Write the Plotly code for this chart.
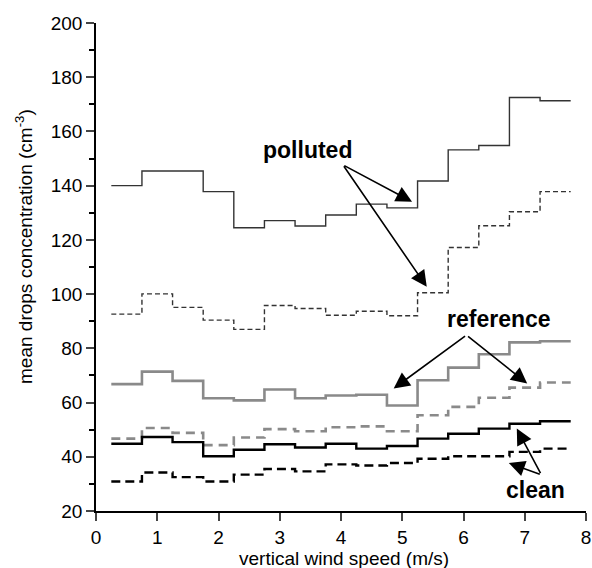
import numpy as np
import plotly.graph_objects as go

# bin centres (m/s)
wind_speed = [0.5, 1.0, 1.5, 2.0, 2.5, 3.0, 3.5, 4.0, 4.5, 5.0, 5.5, 6.0, 6.5, 7.0, 7.5]
bin_half_width = 0.25

polluted_solid = [140.0, 145.4, 145.4, 137.8, 124.5, 127.1, 125.1, 129.2, 133.2, 131.8, 141.7, 153.2, 154.8, 172.5, 171.3]
polluted_dash = [92.6, 100.1, 95.1, 90.4, 87.0, 95.8, 94.7, 92.2, 93.7, 92.0, 100.5, 117.2, 125.2, 130.4, 137.8]
reference_solid = [66.8, 71.4, 68.0, 61.6, 60.8, 64.8, 61.6, 62.6, 62.9, 58.9, 68.2, 72.9, 77.8, 82.2, 82.6]
reference_dash = [46.7, 50.6, 48.8, 44.3, 47.1, 50.2, 49.4, 50.9, 51.2, 49.4, 55.3, 58.4, 61.8, 65.5, 67.4]
clean_solid = [44.8, 47.3, 45.4, 40.2, 42.6, 44.6, 43.4, 44.8, 43.0, 44.0, 46.7, 48.5, 50.4, 52.2, 53.1]
clean_dash = [30.9, 34.2, 32.5, 30.9, 33.4, 35.5, 34.6, 37.2, 36.8, 37.7, 39.3, 40.2, 40.2, 41.8, 43.0]

x_ticks = [0, 1, 2, 3, 4, 5, 6, 7, 8]
y_ticks = [20, 40, 60, 80, 100, 120, 140, 160, 180, 200]
x_title = "vertical wind speed (m/s)"
y_title = "mean drops concentration (cm<sup>-3</sup>)"


def step_xy(centres, values):
    c = np.asarray(centres, dtype=float)
    x = np.append(c - bin_half_width, c[-1] + bin_half_width)
    y = np.append(np.asarray(values, dtype=float), values[-1])
    return x, y


series = [
    (polluted_solid, dict(color="#333333", width=1.4)),
    (polluted_dash, dict(color="#333333", width=1.4, dash="5px,3px")),
    (reference_solid, dict(color="#8a8a8a", width=2.6)),
    (reference_dash, dict(color="#8a8a8a", width=2.6, dash="9px,6px")),
    (clean_solid, dict(color="#000000", width=2.4)),
    (clean_dash, dict(color="#000000", width=2.4, dash="9px,5px")),
]

fig = go.Figure()
for vals, line in series:
    x, y = step_xy(wind_speed, vals)
    fig.add_trace(go.Scatter(x=x, y=y, mode="lines", line=dict(shape="hv", **line),
                             showlegend=False, hoverinfo="skip"))

FONT = "Liberation Sans, Arial, Helvetica, sans-serif"

labels = [
    ("polluted", 3.45, 153.0),
    ("reference", 6.58, 90.7),
    ("clean", 7.18, 27.9),
]
for text, x, y in labels:
    fig.add_annotation(x=x, y=y, xref="x", yref="y", text=f"<b>{text}</b>", showarrow=False,
                       font=dict(family=FONT, size=23, color="black"))

arrows = [
    ((4.03, 147.7), (5.16, 134.1)),
    ((4.03, 147.7), (5.40, 102.7)),
    ((6.05, 84.9), (4.86, 65.2)),
    ((6.05, 84.9), (7.04, 67.0)),
    ((7.27, 33.4), (6.87, 50.4)),
    ((7.27, 33.4), (6.74, 37.7)),
]
for (tx, ty), (hx, hy) in arrows:
    fig.add_annotation(x=hx, y=hy, ax=tx, ay=ty, xref="x", yref="y", axref="x", ayref="y",
                       text="", showarrow=True, arrowhead=2, arrowsize=2.0, arrowwidth=1.6,
                       arrowcolor="black", standoff=0, startstandoff=0)

# axis titles
fig.add_annotation(x=0.506, y=-0.098, xref="paper", yref="paper", text=x_title, showarrow=False,
                   xanchor="center", yanchor="middle", font=dict(family=FONT, size=19, color="black"))
fig.add_annotation(x=-0.147, y=0.543, xref="paper", yref="paper", text=y_title, showarrow=False,
                   textangle=-90, xanchor="center", yanchor="middle",
                   font=dict(family=FONT, size=19, color="black"))

fig.update_layout(
    width=592, height=568,
    margin=dict(l=96, r=6, t=23, b=57, autoexpand=False),
    plot_bgcolor="white", paper_bgcolor="white",
    font=dict(family=FONT, size=19, color="black"),
    showlegend=False,
)
fig.update_xaxes(
    range=[0, 8], tickvals=x_ticks, ticks="outside", ticklen=8, tickwidth=1.5,
    showline=True, linecolor="black", linewidth=1.5, showgrid=False, zeroline=False,
    automargin=False, tickfont=dict(size=19),
)
fig.update_yaxes(
    range=[20, 200], tickvals=y_ticks, ticks="outside", ticklen=8, tickwidth=1.5,
    minor=dict(dtick=10, ticks="outside", ticklen=5, tickwidth=1.5, tickcolor="black", showgrid=False),
    showline=True, linecolor="black", linewidth=1.5, showgrid=False, zeroline=False,
    automargin=False, tickfont=dict(size=19),
)

fig.write_html("out.html", config={"displayModeBar": False},
               post_script="document.body.style.margin='0';document.body.style.overflow='hidden';")
